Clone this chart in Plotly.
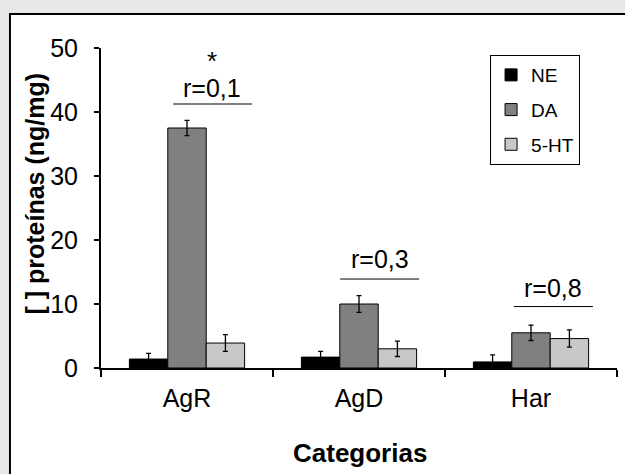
import plotly.graph_objects as go

categories = ["AgR", "AgD", "Har"]
series_names = ["NE", "DA", "5-HT"]
ne_values = [1.4, 1.7, 0.95]
da_values = [37.5, 10.0, 5.5]
ht_values = [3.9, 3.0, 4.6]
ne_err = [0.9, 0.9, 1.1]
da_err = [1.2, 1.3, 1.2]
ht_err = [1.3, 1.2, 1.35]
r_labels = ["r=0,1", "r=0,3", "r=0,8"]
y_ticks = [0, 10, 20, 30, 40, 50]

colors = ["#000000", "#808080", "#c8c8c8"]
FONT = "Liberation Sans, Arial, sans-serif"

fig = go.Figure()
for i, (name, vals, errs) in enumerate(zip(series_names,
                                            [ne_values, da_values, ht_values],
                                            [ne_err, da_err, ht_err])):
    fig.add_trace(go.Bar(
        x=categories, y=vals, name=name, legendgroup=name,
        marker=dict(color=colors[i], line=dict(color="black", width=1)),
        error_y=dict(type="data", array=errs, visible=True, color="black",
                     thickness=1.3, width=2.5),
    ))

# significance annotations: label + line over each group (positions in axis units)
r_text_pos = [(0.148, 43.75), (1.12, 17.1), (2.13, 12.5)]
r_lines = [(-0.081, 0.378, 41.25), (0.89, 1.349, 13.9), (1.90, 2.36, 9.6)]
shapes = []
annotations = []
for lab, (tx, ty), (x0, x1, ly) in zip(r_labels, r_text_pos, r_lines):
    annotations.append(dict(x=tx, y=ty, xref="x", yref="y", text=lab, showarrow=False,
                            font=dict(family=FONT, size=25, color="black"),
                            xanchor="center", yanchor="middle"))
    shapes.append(dict(type="line", xref="x", yref="y", x0=x0, x1=x1, y0=ly, y1=ly,
                       line=dict(color="black", width=1)))
annotations.append(dict(x=0.148, y=48.0, xref="x", yref="y", text="*", showarrow=False,
                        font=dict(family=FONT, size=26, color="black"),
                        xanchor="center", yanchor="middle"))

# axis titles
annotations.append(dict(x=0.502, y=-0.2656, xref="paper", yref="paper",
                        text="<b>Categorias</b>", showarrow=False,
                        font=dict(family=FONT, size=26, color="black"),
                        xanchor="center", yanchor="middle"))
annotations.append(dict(x=-0.128, y=0.545, xref="paper", yref="paper",
                        text="<b>[ ] proteínas (ng/mg)</b>", showarrow=False, textangle=-90,
                        font=dict(family=FONT, size=25, color="black"),
                        xanchor="center", yanchor="middle"))

# chart area frame
shapes.insert(0, dict(type="rect", xref="paper", yref="paper", layer="below",
                      x0=-0.1764, x1=1.3, y0=-0.6, y1=1.106,
                      fillcolor="white", line=dict(color="black", width=2)))

fig.update_layout(
    width=625, height=474,
    margin=dict(l=101, r=8, t=48, b=106),
    paper_bgcolor="#e8e8ea", plot_bgcolor="rgba(0,0,0,0)",
    barmode="group", bargap=0.33, bargroupgap=0,
    font=dict(family=FONT, size=25, color="black"),
    showlegend=True,
    legend=dict(x=0.754, y=0.978, xanchor="left", yanchor="top",
                bgcolor="white", bordercolor="black", borderwidth=1,
                font=dict(family=FONT, size=19, color="black"),
                tracegroupgap=7),
    shapes=shapes, annotations=annotations,
)
fig.update_xaxes(type="category", range=[-0.5, 2.5], tickson="boundaries",
                 ticks="outside", ticklen=7, tickwidth=2, tickcolor="black",
                 showline=True, linewidth=2, linecolor="black", showgrid=False,
                 tickfont=dict(size=25), ticklabelstandoff=7)
fig.update_yaxes(range=[0, 50], tickvals=y_ticks, ticks="outside", ticklen=5, tickwidth=2,
                 tickcolor="black", showline=True, linewidth=2, linecolor="black",
                 showgrid=False, zeroline=False, tickfont=dict(size=25), ticklabelstandoff=11)

fig.write_html("out.html", config={"displayModeBar": False},
               post_script="document.body.style.margin='0';document.body.style.overflow='hidden';")
